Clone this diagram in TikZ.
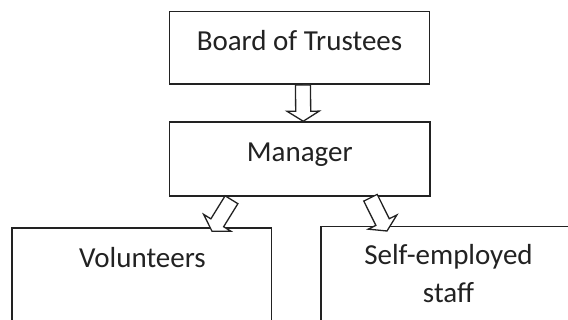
\documentclass[tikz,border=0pt]{standalone}
\usepackage{fontspec}
\setmainfont{Carlito}
\usetikzlibrary{calc}
\definecolor{ink}{HTML}{222222}
\tikzset{
  box/.style={draw=ink, line width=1.5pt, rectangle, inner sep=0pt, text=ink,
    font=\fontsize{29}{37.7}\selectfont},
  lbl/.style={text=ink, inner sep=0pt, font=\fontsize{29}{37.7}\selectfont, align=center},
  blockarrow/.style={draw=ink, fill=white, line width=1.3pt, line join=miter}
}
\newcommand\blockarr[2]{%
  \path ($(#2)!10pt!(#1)$) coordinate (bahb);
  \filldraw[blockarrow] ($(#1)!7.5pt!90:(#2)$) -- ($(bahb)!7.5pt!90:(#2)$) --
    ($(bahb)!16pt!90:(#2)$) -- (#2) -- ($(bahb)!16pt!-90:(#2)$) --
    ($(bahb)!7.5pt!-90:(#2)$) -- ($(#1)!7.5pt!-90:(#2)$) -- cycle;}
\begin{document}
\begin{tikzpicture}[x=1pt,y=1pt]
\useasboundingbox (0,0) rectangle (568,-320);
\clip (0,0) rectangle (568,-320);
\fill[white] (0,0) rectangle (568,-320);
% boxes
\node[box, minimum width=260pt, minimum height=72.5pt, text height=20pt, text depth=15pt]
  (board) at (299.5,-48) {Board of Trustees};
\node[box, minimum width=260.5pt, minimum height=74pt, text height=20pt, text depth=14pt]
  (mgr) at (299.75,-159) {Manager};
\node[box, minimum width=259.7pt, minimum height=130pt, anchor=north]
  (vol) at (141.85,-227.3) {};
\node[box, minimum width=270pt, minimum height=130pt, anchor=north west]
  (self) at (320,-226) {};
% labels in the lower boxes
\node[lbl, anchor=base] (voltext) at ($(vol.north)+(0.65,-40.4)$) {Volunteers};
\node[lbl, anchor=base] (selftext) at (448.5,-302.7) {Self-employed\\staff};
% connector end points
\coordinate (a0s) at ($(board.south)+(3.5,0)$);
\coordinate (a0e) at ($(mgr.north)+(3.5,0)$);
\coordinate (a1s) at ($(mgr.south)+(-68.25,-3)$);
\coordinate (a1e) at ($(vol.north)+(70.15,-4)$);
\coordinate (a2s) at ($(mgr.south)+(70.75,-1)$);
\coordinate (a2e) at ($(self.north west)+(67,-5)$);
% block arrows
\blockarr{a0s}{a0e}
\blockarr{a1s}{a1e}
\blockarr{a2s}{a2e}
\end{tikzpicture}
\end{document}
